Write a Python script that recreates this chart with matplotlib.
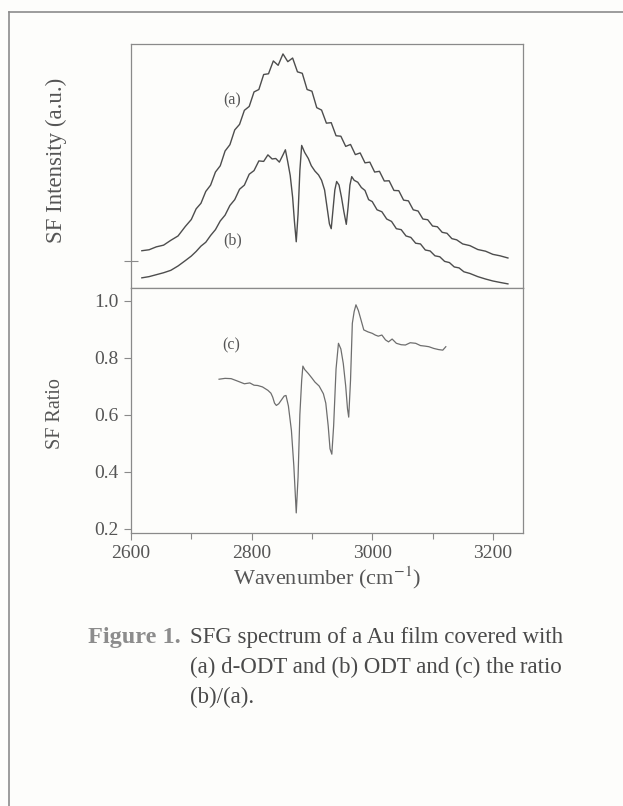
import matplotlib
matplotlib.use('Agg')
import matplotlib.pyplot as plt
from matplotlib.lines import Line2D
from matplotlib.ticker import MultipleLocator

plt.rcParams['font.family'] = ['Liberation Serif', 'DejaVu Serif']
plt.rcParams['mathtext.fontset'] = 'stix'

# spectrum (a) d-ODT (arbitrary units, 0..1 panel height)
wn_a = [2618, 2630, 2642, 2654, 2666, 2678, 2690, 2700, 2708, 2716, 2724, 2732, 2740, 2748,
        2756, 2764, 2772, 2780, 2788, 2796, 2804, 2812, 2820, 2828, 2836, 2844, 2852, 2860,
        2868, 2876, 2884, 2892, 2900, 2908, 2916, 2924, 2932, 2940, 2948, 2956, 2964, 2972,
        2980, 2988, 2996, 3004, 3012, 3020, 3028, 3036, 3044, 3052, 3060, 3068, 3076, 3084,
        3092, 3100, 3108, 3116, 3124, 3132, 3140, 3150, 3162, 3175, 3188, 3200, 3212, 3225]
int_a = [0.149, 0.153, 0.165, 0.172, 0.192, 0.210, 0.249, 0.278, 0.322, 0.345, 0.394, 0.420, 0.474, 0.500,
         0.561, 0.587, 0.648, 0.671, 0.729, 0.745, 0.805, 0.815, 0.877, 0.880, 0.933, 0.915, 0.962, 0.930,
         0.945, 0.888, 0.882, 0.815, 0.808, 0.740, 0.730, 0.676, 0.678, 0.624, 0.622, 0.580, 0.588, 0.546,
         0.553, 0.512, 0.515, 0.474, 0.477, 0.437, 0.438, 0.398, 0.397, 0.358, 0.355, 0.318, 0.313, 0.280,
         0.277, 0.251, 0.248, 0.225, 0.221, 0.199, 0.194, 0.177, 0.170, 0.154, 0.147, 0.134, 0.128, 0.119]

# spectrum (b) ODT
wn_b = [2618, 2630, 2642, 2654, 2666, 2678, 2690, 2700, 2708, 2716, 2724, 2732, 2740, 2748,
        2756, 2764, 2772, 2780, 2788, 2796, 2804, 2812, 2820, 2827, 2834, 2840, 2846, 2852,
        2856, 2860, 2864, 2868, 2871, 2874, 2877, 2880, 2883, 2888, 2894, 2899, 2905, 2911,
        2916, 2921, 2925, 2929, 2932, 2935, 2938, 2941, 2945, 2949, 2953, 2957, 2960, 2963,
        2966, 2970, 2976, 2982, 2988, 2994, 3000, 3008, 3016, 3024, 3032, 3040, 3048, 3056,
        3064, 3072, 3080, 3088, 3096, 3104, 3112, 3120, 3128, 3136, 3144, 3152, 3162, 3175,
        3188, 3200, 3212, 3225]
int_b = [0.037, 0.042, 0.050, 0.058, 0.068, 0.086, 0.108, 0.127, 0.146, 0.168, 0.184, 0.212, 0.236, 0.272,
         0.296, 0.336, 0.360, 0.403, 0.420, 0.465, 0.480, 0.520, 0.518, 0.545, 0.528, 0.530, 0.515, 0.545,
         0.566, 0.515, 0.460, 0.370, 0.270, 0.186, 0.300, 0.480, 0.584, 0.555, 0.530, 0.500, 0.478, 0.462,
         0.440, 0.400, 0.330, 0.260, 0.240, 0.320, 0.400, 0.435, 0.420, 0.370, 0.310, 0.258, 0.330, 0.420,
         0.455, 0.440, 0.432, 0.410, 0.398, 0.360, 0.352, 0.318, 0.310, 0.280, 0.270, 0.240, 0.236, 0.210,
         0.204, 0.180, 0.177, 0.152, 0.148, 0.128, 0.124, 0.105, 0.100, 0.082, 0.078, 0.062, 0.055, 0.042,
         0.032, 0.024, 0.018, 0.012]

# ratio (c) = (b)/(a)
wn_c = [2746, 2756, 2766, 2776, 2788, 2797, 2804, 2810, 2818, 2827, 2832, 2835, 2838, 2841,
        2845, 2849, 2854, 2857, 2861, 2866, 2870, 2874, 2877, 2880, 2883, 2885, 2888, 2894,
        2900, 2905, 2912, 2919, 2923, 2927, 2930, 2933, 2936, 2940, 2944, 2948, 2952, 2956,
        2959, 2961, 2964, 2967, 2970, 2973, 2977, 2981, 2986, 2993, 3000, 3005, 3010, 3016,
        3022, 3027, 3033, 3040, 3048, 3055, 3063, 3072, 3080, 3088, 3094, 3102, 3110, 3117, 3122]
ratio_c = [0.724, 0.727, 0.726, 0.718, 0.708, 0.711, 0.703, 0.702, 0.697, 0.685, 0.675, 0.661, 0.640, 0.632,
           0.638, 0.650, 0.665, 0.667, 0.630, 0.544, 0.420, 0.255, 0.380, 0.600, 0.720, 0.770, 0.758, 0.744,
           0.728, 0.714, 0.700, 0.673, 0.640, 0.560, 0.480, 0.461, 0.560, 0.760, 0.850, 0.830, 0.779, 0.700,
           0.620, 0.591, 0.720, 0.920, 0.961, 0.985, 0.965, 0.935, 0.897, 0.890, 0.885, 0.879, 0.875, 0.879,
           0.862, 0.855, 0.865, 0.850, 0.845, 0.844, 0.852, 0.850, 0.842, 0.840, 0.838, 0.832, 0.828, 0.826, 0.838]

ratio_ticks = [0.2, 0.4, 0.6, 0.8, 1.0]
wn_ticks = [2600, 2800, 3000, 3200]

W, H = 623, 806
txt = '#555555'
edge = '#8a8a8a'

fig = plt.figure(figsize=(W / 100, H / 100), dpi=100, facecolor='#fdfdfb')

def px(x, y):
    return x / W, 1 - y / H

ax1 = fig.add_axes([131 / W, 1 - 288 / H, 392 / W, 244 / H])
ax2 = fig.add_axes([131 / W, 1 - 533 / H, 392 / W, 245 / H], sharex=ax1)

for ax in (ax1, ax2):
    ax.set_facecolor('#fdfdfb')
    for s in ax.spines.values():
        s.set_color(edge)
        s.set_linewidth(0.9)
    ax.tick_params(colors=edge, labelcolor=txt, labelsize=14, width=0.8)

ax1.plot(wn_a, int_a, color='#4d4d4d', lw=1.0)
ax1.plot(wn_b, int_b, color='#4d4d4d', lw=1.0)
ax1.set_ylim(-0.005, 1.003)
ax1.set_yticks([0.108])
ax1.set_yticklabels([])
ax1.tick_params(axis='y', direction='inout', length=10)
ax1.tick_params(axis='x', bottom=False, labelbottom=False)
ax1.text(2768, 0.77, '(a)', fontsize=11.5, color=txt, ha='center', va='center')
ax1.text(2768, 0.193, '(b)', fontsize=11.5, color=txt, ha='center', va='center')

ax2.plot(wn_c, ratio_c, color='#6e6e6e', lw=0.9)
ax2.set_xlim(2600, 3250)
ax2.set_ylim(0.1845, 1.044)
ax2.set_yticks(ratio_ticks)
ax2.set_yticklabels(['%.1f' % v for v in ratio_ticks])
ax2.set_xticks(wn_ticks)
ax2.set_xticklabels([str(v) for v in wn_ticks])
ax2.xaxis.set_minor_locator(MultipleLocator(100))
ax2.tick_params(which='major', length=5, pad=4)
ax2.tick_params(which='minor', axis='x', length=4, colors=edge, width=0.8)
ax2.text(2766, 0.844, '(c)', fontsize=11.5, color=txt, ha='center', va='center')

fig.text(*px(56, 160), 'SF Intensity (a.u.)', rotation=90, fontsize=16.5,
         color=txt, ha='center', va='center')
fig.text(*px(56, 414), 'SF Ratio', rotation=90, fontsize=14.5,
         color=txt, ha='center', va='center')
fig.text(*px(327, 578), 'Wavenumber (cm$^{-1}$)', fontsize=16,
         color=txt, ha='center', va='center')

# caption: bold label, then the text lines aligned after it
cap_size = 16.5
lab = fig.text(*px(88, 638), 'Figure 1.', fontsize=17.5, fontweight='bold',
               color='#8c8c8c', ha='left', va='center')
fig.canvas.draw()
x_rest = lab.get_window_extent(renderer=fig.canvas.get_renderer()).x1 + 9
caption_lines = ['SFG spectrum of a Au film covered with',
                 '(a) d-ODT and (b) ODT and (c) the ratio',
                 '(b)/(a).']
for i, line in enumerate(caption_lines):
    fig.text(x_rest / W, 1 - (638 + 29.5 * i) / H, line, fontsize=cap_size,
             color='#4a4a4a', ha='left', va='center')

# outer frame (top and left edges)
fig.add_artist(Line2D([9 / W, 1], [1 - 12 / H, 1 - 12 / H], color='#8c8c8c', lw=1.2))
fig.add_artist(Line2D([9 / W, 9 / W], [0, 1 - 12 / H], color='#8c8c8c', lw=1.2))

fig.savefig('out.png', dpi=100, facecolor=fig.get_facecolor())
